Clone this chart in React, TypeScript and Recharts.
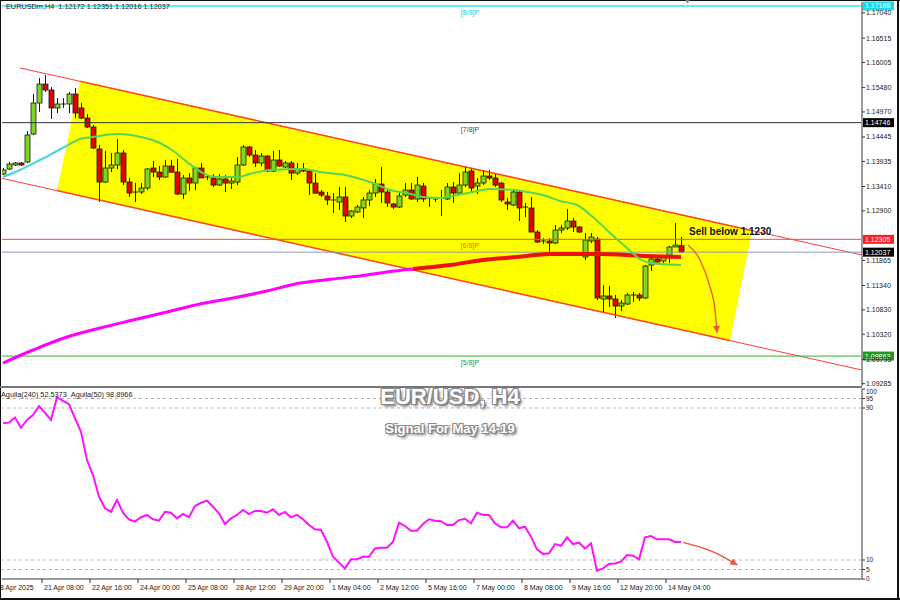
import React from 'react';
import { ComposedChart, Bar, Line, XAxis, YAxis, ReferenceLine, ReferenceArea } from 'recharts';

document.body.style.margin = '0';

// H4 bars, 18 Apr 2025 .. 14 May 2025 (index = bar number)
const barOpen = [1.13671, 1.13776, 1.1386, 1.13902, 1.13923, 1.14508, 1.15157, 1.15554, 1.15429, 1.15053, 1.15136, 1.15136, 1.15345, 1.15053, 1.14843, 1.14655, 1.14195, 1.13504, 1.13797, 1.1386, 1.14111, 1.13504, 1.13295, 1.13295, 1.13379, 1.13797, 1.13713, 1.13609, 1.13839, 1.13713, 1.13253, 1.13588, 1.13483, 1.13797, 1.13588, 1.13588, 1.13441, 1.13567, 1.13483, 1.13504, 1.1386, 1.14237, 1.14069, 1.13902, 1.14048, 1.13734, 1.13965, 1.13818, 1.13902, 1.13692, 1.13776, 1.13734, 1.13483, 1.13295, 1.13211, 1.13128, 1.13086, 1.13191, 1.12793, 1.12877, 1.12961, 1.13128, 1.13274, 1.13462, 1.13295, 1.13044, 1.12981, 1.13232, 1.13337, 1.13149, 1.1342, 1.13149, 1.13149, 1.13149, 1.13149, 1.134, 1.13274, 1.13441, 1.13734, 1.1342, 1.13483, 1.1363, 1.13588, 1.13483, 1.13086, 1.13023, 1.13295, 1.12961, 1.12961, 1.12458, 1.1227, 1.1227, 1.12228, 1.125, 1.12542, 1.12688, 1.12563, 1.11936, 1.1227, 1.12312, 1.11057, 1.1112, 1.11057, 1.1091, 1.10952, 1.11141, 1.11141, 1.11078, 1.11768, 1.11894, 1.11852, 1.11936, 1.12145, 1.12172];
const barHigh = [1.13797, 1.13923, 1.13923, 1.13923, 1.14571, 1.15345, 1.1568, 1.15743, 1.15492, 1.15262, 1.15262, 1.15387, 1.15471, 1.15157, 1.14927, 1.14696, 1.14278, 1.14153, 1.14111, 1.14404, 1.14174, 1.13588, 1.13483, 1.13483, 1.13797, 1.13944, 1.13839, 1.13965, 1.13965, 1.13986, 1.1365, 1.13692, 1.13818, 1.13902, 1.1365, 1.13671, 1.13671, 1.1365, 1.13609, 1.14027, 1.14278, 1.14257, 1.14174, 1.14111, 1.14069, 1.14153, 1.14174, 1.13944, 1.13944, 1.13902, 1.13902, 1.13755, 1.13692, 1.13337, 1.13295, 1.13274, 1.134, 1.134, 1.12919, 1.13023, 1.13191, 1.13337, 1.13567, 1.13818, 1.13337, 1.13065, 1.13274, 1.13483, 1.13483, 1.13609, 1.13483, 1.13191, 1.1317, 1.13337, 1.13483, 1.13504, 1.13692, 1.13818, 1.13797, 1.13588, 1.13755, 1.13755, 1.13671, 1.13504, 1.1317, 1.13337, 1.13337, 1.13065, 1.13191, 1.125, 1.12333, 1.12333, 1.12605, 1.12605, 1.1294, 1.12751, 1.12584, 1.12437, 1.12437, 1.12354, 1.1135, 1.11329, 1.11141, 1.11036, 1.11182, 1.11203, 1.11182, 1.11768, 1.11936, 1.11936, 1.11978, 1.12166, 1.12646, 1.12351];
const barLow = [1.1365, 1.13755, 1.13839, 1.13839, 1.13902, 1.14487, 1.14969, 1.15387, 1.14822, 1.14948, 1.15053, 1.14948, 1.14843, 1.14822, 1.14634, 1.14195, 1.13086, 1.13483, 1.13713, 1.13776, 1.13441, 1.13191, 1.13086, 1.13253, 1.13337, 1.13609, 1.13546, 1.13588, 1.13713, 1.13232, 1.13149, 1.13316, 1.13337, 1.13588, 1.13546, 1.134, 1.1342, 1.13295, 1.13358, 1.13441, 1.13839, 1.14027, 1.13818, 1.13839, 1.13713, 1.13713, 1.13818, 1.13797, 1.13546, 1.1365, 1.13713, 1.13232, 1.13274, 1.13191, 1.13023, 1.12856, 1.12919, 1.12667, 1.12751, 1.12856, 1.12751, 1.13002, 1.13191, 1.13065, 1.12981, 1.1294, 1.12961, 1.13191, 1.13128, 1.13086, 1.13086, 1.12981, 1.13086, 1.12793, 1.13128, 1.13065, 1.13232, 1.134, 1.13295, 1.13253, 1.13441, 1.13546, 1.134, 1.13086, 1.12919, 1.13002, 1.12688, 1.12772, 1.12458, 1.12228, 1.12207, 1.11958, 1.12207, 1.12437, 1.125, 1.12458, 1.12437, 1.11873, 1.12228, 1.11036, 1.10785, 1.10889, 1.10659, 1.10805, 1.10931, 1.10994, 1.11015, 1.11057, 1.11643, 1.1181, 1.1181, 1.1181, 1.12145, 1.12016];
const barClose = [1.13755, 1.13881, 1.13902, 1.1386, 1.14487, 1.15157, 1.15554, 1.15429, 1.15053, 1.15136, 1.1513, 1.15345, 1.14948, 1.14843, 1.14655, 1.14216, 1.13504, 1.13797, 1.1386, 1.14111, 1.13504, 1.13274, 1.13274, 1.13379, 1.13776, 1.13713, 1.13609, 1.13839, 1.1371, 1.13253, 1.13588, 1.13483, 1.13797, 1.1359, 1.13609, 1.13441, 1.13567, 1.13483, 1.13525, 1.1386, 1.14237, 1.14069, 1.13902, 1.14048, 1.13734, 1.13965, 1.13839, 1.13902, 1.13692, 1.13776, 1.13734, 1.13483, 1.1327, 1.13232, 1.13128, 1.13107, 1.13191, 1.12793, 1.12898, 1.12981, 1.13128, 1.13274, 1.13462, 1.13295, 1.13065, 1.12981, 1.13211, 1.13337, 1.13149, 1.13441, 1.13149, 1.1317, 1.13128, 1.1317, 1.134, 1.13274, 1.13441, 1.13713, 1.13379, 1.13483, 1.1363, 1.13588, 1.13441, 1.13128, 1.13044, 1.13295, 1.12961, 1.12981, 1.12458, 1.12249, 1.12249, 1.12228, 1.125, 1.12542, 1.12688, 1.12563, 1.12458, 1.12291, 1.12354, 1.11078, 1.1112, 1.11057, 1.1091, 1.10973, 1.11141, 1.1113, 1.11078, 1.11747, 1.11894, 1.11831, 1.11936, 1.12145, 1.12186, 1.12037];

// Aguila(50) oscillator, one value per bar
const aguila50 = [82, 82.3, 85, 79.6, 83.7, 86.3, 91, 87.5, 83.7, 95.6, 93.8, 92, 84.6, 77.5, 62.6, 54.7, 43.3, 37.2, 35.4, 41.6, 34.9, 31.4, 30.2, 32.5, 33.7, 31.4, 30.7, 35.4, 34.9, 31.9, 34.2, 32.5, 38.4, 40.2, 41.2, 38, 34.6, 28.9, 31.9, 33.7, 36.3, 34.2, 35.8, 35.8, 34.9, 36.7, 33.7, 35.3, 32.5, 33.8, 31.4, 28.4, 26.2, 25.8, 19.6, 11.7, 8.6, 5.6, 10.4, 10.4, 11.7, 11.7, 16.1, 16.5, 16.5, 19.6, 29.6, 27.9, 25.4, 25.4, 28.9, 31.4, 30.7, 30.4, 28.4, 28.4, 31, 31.7, 29.3, 34.9, 33.7, 33.7, 29.3, 27.2, 27.2, 30.7, 26.7, 27.5, 22.3, 15.6, 13.2, 13.5, 18.4, 17.5, 21.9, 18.4, 19.1, 16.1, 18.8, 4.4, 5.6, 7.9, 8.2, 9.1, 12.6, 12.3, 10.4, 21.9, 22.6, 20.9, 20.9, 20.9, 19.5, 19.5];

// fast moving average (cyan part first, then green)
const maFastIdx = [0, 2.83, 6.17, 8.67, 10.83, 12.83, 14.83, 19, 23.67, 26.17, 28.17, 30.67, 33.33, 35.67, 39, 41.67, 44.5, 50, 52.83, 57, 59, 61.67, 64.5, 67.33, 70, 72.83, 75.67, 78.33, 81.17, 85.33, 87.33, 90, 92.83, 95.67, 98.33, 101.17, 104, 106.17, 107.83, 113];
const maFastVal = [1.13609, 1.13755, 1.13965, 1.14132, 1.14278, 1.14404, 1.14446, 1.14508, 1.14425, 1.1432, 1.14174, 1.13923, 1.13692, 1.13609, 1.13609, 1.13692, 1.13755, 1.13776, 1.13713, 1.1365, 1.13588, 1.13483, 1.13337, 1.13274, 1.13191, 1.1317, 1.13232, 1.13295, 1.13358, 1.13337, 1.13295, 1.13232, 1.13107, 1.13023, 1.12772, 1.12437, 1.12123, 1.11894, 1.1181, 1.11768];
const fastSwitch = 4;

// slow moving average (magenta part first, then red)
const maSlowIdx = [0, 5, 10.67, 16.17, 21.67, 27.33, 32.83, 38.33, 44, 49.5, 55, 60.67, 64, 68.33, 74.5, 80, 85.67, 91.17, 99.5, 106.67, 113];
const maSlowVal = [1.09718, 1.0999, 1.10262, 1.1045, 1.10617, 1.10785, 1.10952, 1.11078, 1.11224, 1.11391, 1.11475, 1.11559, 1.11622, 1.11684, 1.11768, 1.11873, 1.11936, 1.11998, 1.11998, 1.11957, 1.11936];
const slowSwitch = 13;

// descending channel
const upperChannelIdx = [2.83, 143.16];
const upperChannelPrice = [1.1589, 1.11977];
const lowerChannelIdx = [-0.16, 143.16];
const lowerChannelPrice = [1.1358, 1.09571];
const boxIdx = [12.83, 124.83, 121.17, 9];
const boxPrice = [1.15611, 1.12488, 1.10188, 1.13325];

// Murrey levels and bid line
const levelPrice = [1.17188, 1.14746, 1.12305, 1.12037, 1.09863];
const levelName = ['[8/8]P', '[7/8]P', '[6/8]P', '', '[5/8]P'];

const priceTicks = [1.1704, 1.16515, 1.16005, 1.1548, 1.1497, 1.14445, 1.13935, 1.1341, 1.129, 1.11865, 1.1134, 1.1083, 1.1032, 1.09795, 1.09285];
const oscTicks = [0, 5, 10, 90, 95, 100];
const timeTicks = [-1.5, 6.5, 14.5, 22.5, 30.5, 38.5, 46.5, 54.5, 62.5, 70.5, 78.5, 86.5, 94.5, 102.5, 110.5];
const timeLabels = ['18 Apr 2025', '21 Apr 08:00', '22 Apr 16:00', '24 Apr 00:00', '25 Apr 08:00', '28 Apr 12:00', '29 Apr 20:00', '1 May 04:00', '2 May 12:00', '5 May 16:00', '7 May 00:00', '8 May 08:00', '9 May 16:00', '12 May 20:00', '14 May 04:00'];

// projected move arrows
const arrowMainIdx = [114.17, 116.17, 117.83, 118.67, 119];
const arrowMainPrice = [1.12186, 1.11873, 1.11308, 1.10826, 1.10345];
const arrowOscIdx = [113.4, 116.7, 119.5, 121.45, 122.4];
const arrowOscVal = [19.1, 16.2, 12.6, 9.1, 7.4];

const xMin = -1 / 6;
const xMax = 143 + 1 / 6;
const FONT = '"Liberation Sans", Arial, sans-serif';

const levelStyle = [
  { line: '#36e2f0', tag: '#1fd9ea', name: '#22c8e8' },
  { line: '#333', tag: '#000', name: '#444' },
  { line: '#ff4545', tag: '#f52020', name: '#ff6a00' },
  { line: '#8c9bb0', tag: '#000', name: '' },
  { line: '#33b033', tag: '#1f9a1f', name: '#2a9a2a' },
];

const CandleShape = (props: any) => {
  const { x, y, width, height, payload } = props;
  if (x == null || y == null || !payload) return <g />;
  const top = height >= 0 ? y : y + height;
  const span = Math.abs(height);
  const { o, h, l, c } = payload;
  const k = h > l ? span / (h - l) : 0;
  const cx = Math.round(x + width / 2) + 0.5;
  const bTop = top + (h - Math.max(o, c)) * k;
  const bBot = top + (h - Math.min(o, c)) * k;
  const up = c >= o;
  return (
    <g>
      <line x1={cx} x2={cx} y1={top} y2={top + span} stroke="#1a1a1a" strokeWidth={1} />
      {bBot - bTop < 1.2 ? (
        <line x1={cx - 2.5} x2={cx + 2.5} y1={bTop} y2={bTop} stroke="#1a1a1a" strokeWidth={1} />
      ) : (
        <rect x={cx - 2.5} y={bTop} width={5} height={bBot - bTop} fill={up ? '#7fd51f' : '#e60000'} stroke="#1a1a1a" strokeWidth={0.8} />
      )}
    </g>
  );
};

const ChannelBox = (props: any) => {
  const { x, y, width, height } = props;
  const i0 = Math.min(...boxIdx);
  const i1 = Math.max(...boxIdx);
  const p0 = Math.max(...boxPrice);
  const p1 = Math.min(...boxPrice);
  const pts = boxIdx.map((i, k) => [x + ((i - i0) / (i1 - i0)) * width, y + ((p0 - boxPrice[k]) / (p0 - p1)) * height]);
  return (
    <g>
      <polygon points={pts.map((p) => p.join(',')).join(' ')} fill="#ffff00" />
      <line x1={pts[0][0]} y1={pts[0][1]} x2={pts[1][0]} y2={pts[1][1]} stroke="#ff7b00" strokeWidth={1.6} />
      <line x1={pts[3][0]} y1={pts[3][1]} x2={pts[2][0]} y2={pts[2][1]} stroke="#ff7b00" strokeWidth={1.6} />
    </g>
  );
};

const levelLabel = (k: number) => (props: any) => {
  const vb = props.viewBox;
  if (!vb) return null;
  const right = vb.x + vb.width;
  const st = levelStyle[k];
  return (
    <g>
      {levelName[k] ? (
        <text x={vb.x + 468} y={vb.y + 9} fontSize={7} fontFamily={FONT} fill={st.name} textAnchor="middle">
          {levelName[k]}
        </text>
      ) : null}
      <rect x={right + 1} y={vb.y - 4.5} width={31} height={9} fill={st.tag} />
      <text x={right + 3} y={vb.y} dy="0.35em" fontSize={7} fontFamily={FONT} fill="#fff">
        {levelPrice[k].toFixed(5)}
      </text>
    </g>
  );
};

const PriceTick = (props: any) => {
  const { x, y, payload } = props;
  return (
    <g>
      <line x1={x} x2={x + 3} y1={y} y2={y} stroke="#333" />
      <text x={x + 4} y={y} dy="0.35em" fontSize={7} fontFamily={FONT} fill="#222">
        {Number(payload.value).toFixed(5)}
      </text>
    </g>
  );
};

const OscTick = (props: any) => {
  const { x, y, payload } = props;
  return (
    <g>
      <line x1={x} x2={x + 3} y1={y} y2={y} stroke="#333" />
      <text x={x + 4} y={payload.value === 100 ? y + 3 : y} dy="0.35em" fontSize={6.5} fontFamily={FONT} fill="#222">
        {payload.value}
      </text>
    </g>
  );
};

const TimeTick = (props: any) => {
  const { x, y, payload } = props;
  const label = timeLabels[timeTicks.indexOf(payload.value)];
  return (
    <g>
      <line x1={x} x2={x} y1={y} y2={y + 4} stroke="#333" />
      <text x={x + 2} y={y + 11} fontSize={7} fontFamily={FONT} fill="#222">
        {label}
      </text>
    </g>
  );
};

const arrowHead = (color: string, fallback: number) => (props: any) => {
  const { cx, cy, index, points } = props;
  if (index !== 4 || cx == null) return <g key={`d${index}`} />;
  let ang = fallback;
  if (points && points[index - 1]) ang = Math.atan2(cy - points[index - 1].y, cx - points[index - 1].x);
  const L = 7;
  const W = 3.5;
  const bx = cx - L * Math.cos(ang);
  const by = cy - L * Math.sin(ang);
  const nx = -Math.sin(ang) * W;
  const ny = Math.cos(ang) * W;
  return <polygon key={`d${index}`} points={`${cx},${cy} ${bx + nx},${by + ny} ${bx - nx},${by - ny}`} fill={color} />;
};

const App = () => {
  const candles = barOpen.map((o, i) => ({ i, o, h: barHigh[i], l: barLow[i], c: barClose[i] }));
  const toPts = (xs: number[], ys: number[]) => xs.map((i, k) => ({ i, v: ys[k] }));
  const fast = toPts(maFastIdx, maFastVal);
  const slow = toPts(maSlowIdx, maSlowVal);
  const osc = aguila50.map((v, i) => ({ i, v }));
  const arrowMain = toPts(arrowMainIdx, arrowMainPrice);
  const arrowOsc = toPts(arrowOscIdx, arrowOscVal);

  const overlay: React.CSSProperties = { position: 'absolute', fontFamily: FONT, whiteSpace: 'nowrap', lineHeight: 1, pointerEvents: 'none' };
  const titleShadow = '-1px -1px 0 #8a8a8a, 1px -1px 0 #8a8a8a, -1px 1px 0 #8a8a8a, 1px 1px 0 #8a8a8a, 2px 2px 3px #444';

  return (
    <div style={{ position: 'relative', width: 900, height: 600, background: '#fff', overflow: 'hidden' }}>
      <div style={{ position: 'absolute', left: 0, top: 0 }}>
        <ComposedChart width={900} height={388} data={candles} margin={{ top: 2, right: 0, bottom: 2, left: 2 }}>
          <XAxis type="number" dataKey="i" domain={[xMin, xMax]} hide allowDataOverflow />
          <YAxis
            orientation="right"
            domain={[1.09237, 1.1727]}
            ticks={priceTicks}
            interval={0}
            width={38}
            allowDataOverflow
            axisLine={{ stroke: '#9a9a9a', strokeWidth: 2 }}
            tickLine={false}
            tickSize={0}
            tickMargin={0}
            tick={PriceTick}
          />
          <ReferenceLine
            segment={[{ x: upperChannelIdx[0], y: upperChannelPrice[0] }, { x: upperChannelIdx[1], y: upperChannelPrice[1] }]}
            stroke="#ff3b3b"
            strokeWidth={1}
            ifOverflow="visible"
          />
          <ReferenceLine
            segment={[{ x: lowerChannelIdx[0], y: lowerChannelPrice[0] }, { x: lowerChannelIdx[1], y: lowerChannelPrice[1] }]}
            stroke="#ff3b3b"
            strokeWidth={1}
            ifOverflow="visible"
          />
          <ReferenceArea
            x1={Math.min(...boxIdx)}
            x2={Math.max(...boxIdx)}
            y1={Math.min(...boxPrice)}
            y2={Math.max(...boxPrice)}
            shape={ChannelBox}
            ifOverflow="visible"
          />
          {levelPrice.map((p, k) => (
            <ReferenceLine key={p} y={p} stroke={levelStyle[k].line} strokeWidth={k === 0 ? 1.5 : 1} label={levelLabel(k)} ifOverflow="visible" />
          ))}
          <Bar dataKey={(d: any) => [d.l, d.h]} shape={CandleShape} barSize={5} isAnimationActive={false} />
          <Line data={slow.slice(0, slowSwitch + 1)} dataKey="v" type="monotone" stroke="#ff00ff" strokeWidth={3} dot={false} isAnimationActive={false} />
          <Line data={slow.slice(slowSwitch)} dataKey="v" type="monotone" stroke="#ee1111" strokeWidth={4} dot={false} isAnimationActive={false} />
          <Line data={fast.slice(0, fastSwitch + 1)} dataKey="v" type="monotone" stroke="#3ed8e4" strokeWidth={2} dot={false} isAnimationActive={false} />
          <Line data={fast.slice(fastSwitch)} dataKey="v" type="monotone" stroke="#55d655" strokeWidth={2} dot={false} isAnimationActive={false} />
          <Line data={arrowMain} dataKey="v" type="monotone" stroke="#f0523c" strokeWidth={1.3} dot={arrowHead('#f0523c', Math.PI / 2)} isAnimationActive={false} />
        </ComposedChart>
      </div>

      <div style={{ position: 'absolute', left: 0, top: 386 }}>
        <ComposedChart width={900} height={214} data={osc} margin={{ top: 3, right: 0, bottom: 2, left: 2 }}>
          <XAxis
            type="number"
            dataKey="i"
            domain={[xMin, xMax]}
            ticks={timeTicks}
            interval={0}
            allowDataOverflow
            height={19}
            tickLine={false}
            tickSize={0}
            tickMargin={0}
            axisLine={{ stroke: '#9a9a9a', strokeWidth: 2 }}
            tick={TimeTick}
          />
          <YAxis
            orientation="right"
            domain={[0, 100]}
            ticks={oscTicks}
            interval={0}
            width={38}
            axisLine={{ stroke: '#9a9a9a', strokeWidth: 2 }}
            tickLine={false}
            tickSize={0}
            tickMargin={0}
            tick={OscTick}
          />
          {[95, 90, 10, 5].map((v) => (
            <ReferenceLine key={v} y={v} stroke="#b5b5b5" strokeDasharray="3 3" />
          ))}
          <Line dataKey="v" type="linear" stroke="#ff11ff" strokeWidth={2} dot={false} isAnimationActive={false} />
          <Line data={arrowOsc} dataKey="v" type="monotone" stroke="#f0523c" strokeWidth={1.3} dot={arrowHead('#f0523c', 0.6)} isAnimationActive={false} />
        </ComposedChart>
      </div>

      {/* frame and panel separator */}
      <div style={{ position: 'absolute', left: 0, top: 0, width: 900, height: 1, background: '#111' }} />
      <div style={{ position: 'absolute', left: 0, top: 0, width: 1, height: 600, background: '#111' }} />
      <div style={{ position: 'absolute', left: 0, top: 598, width: 900, height: 2, background: '#111' }} />
      <div style={{ position: 'absolute', left: 897, top: 0, width: 2, height: 600, background: '#111' }} />
      <div style={{ position: 'absolute', left: 0, top: 386, width: 862, height: 2, background: '#777' }} />

      <div style={{ ...overlay, left: 684, top: -2, fontSize: 7, color: '#7a8594' }}>▼</div>
      <div style={{ ...overlay, left: 6, top: 3, fontSize: 7.3, color: '#222' }}>EURUSDm,H4&nbsp;&nbsp;1.12172 1.12351 1.12016 1.12037</div>
      <div style={{ ...overlay, left: 689, top: 227, fontSize: 10, fontWeight: 700, color: '#111' }}>Sell below 1.1230</div>
      <div style={{ ...overlay, left: 1, top: 391, fontSize: 7.3, color: '#222' }}>Aguila(240) 52.5373&nbsp;&nbsp;Aguila(50) 98.8966</div>
      <div style={{ ...overlay, left: 0, width: 900, textAlign: 'center', top: 386, fontSize: 22, fontWeight: 700, color: '#fff', textShadow: titleShadow }}>EUR/USD, H4</div>
      <div style={{ ...overlay, left: 0, width: 900, textAlign: 'center', top: 422, fontSize: 13, fontWeight: 700, color: '#fff', textShadow: titleShadow }}>Signal For May 14-19</div>
    </div>
  );
};

export default App;
